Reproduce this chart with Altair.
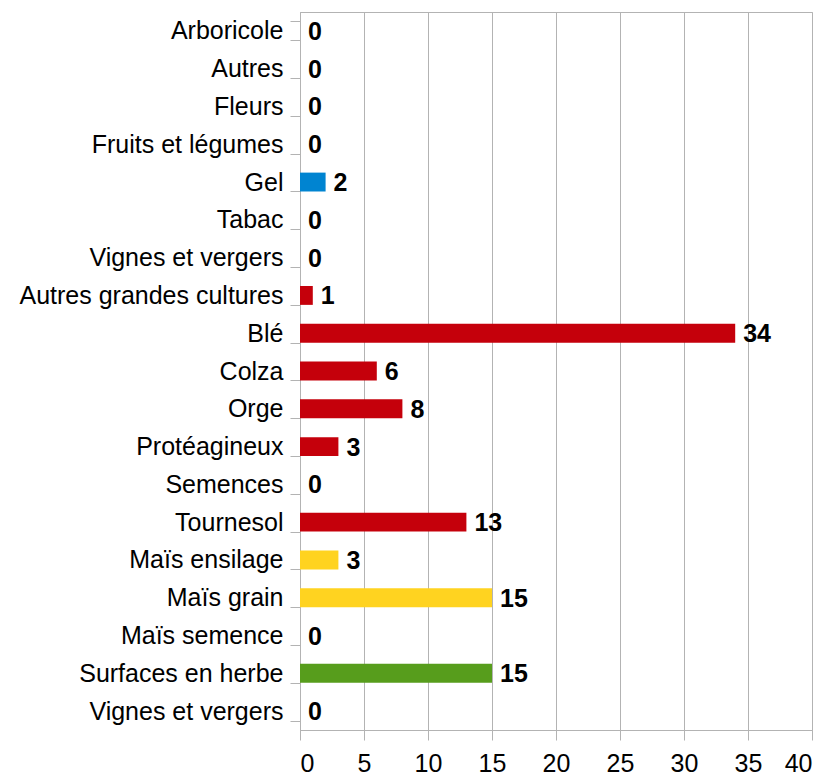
import json
import altair as alt
import pandas as pd

categories = [
    "Arboricole", "Autres", "Fleurs", "Fruits et légumes", "Gel", "Tabac",
    "Vignes et vergers", "Autres grandes cultures", "Blé", "Colza", "Orge",
    "Protéagineux", "Semences", "Tournesol", "Maïs ensilage", "Maïs grain",
    "Maïs semence", "Surfaces en herbe", "Vignes et vergers",
]
values = [0, 0, 0, 0, 2, 0, 0, 1, 34, 6, 8, 3, 0, 13, 3, 15, 0, 15, 0]
groups = ["blue"] * 7 + ["red"] * 7 + ["yellow"] * 3 + ["green"] * 2
group_colors = {"blue": "#0084d1", "red": "#c5000b", "yellow": "#ffd320", "green": "#579d1c"}
x_ticks = [0, 5, 10, 15, 20, 25, 30, 35, 40]

df = pd.DataFrame({
    "idx": list(range(len(categories))),
    "value": values,
    "group": groups,
})

label_expr = json.dumps(categories, ensure_ascii=False) + "[datum.value]"

y_enc = alt.Y(
    "idx:O",
    title=None,
    scale=alt.Scale(paddingInner=0.5, paddingOuter=0.25),
    axis=alt.Axis(
        labelExpr=label_expr,
        labelFont="Liberation Sans",
        labelFontSize=25,
        labelColor="#000000",
        labelPadding=7,
        labelLimit=0,
        tickSize=10,
        tickColor="#b3b3b3",
        tickBand="extent",
        domainColor="#b3b3b3",
        grid=False,
    ),
)
x_enc = alt.X(
    "value:Q",
    title=None,
    scale=alt.Scale(domain=[0, 40], nice=False),
    axis=alt.Axis(
        values=x_ticks,
        labelFont="Liberation Sans",
        labelFontSize=25,
        labelColor="#000000",
        labelPadding=11,
        tickSize=10,
        tickColor="#b3b3b3",
        domainColor="#b3b3b3",
        gridColor="#b3b3b3",
        grid=True,
    ),
)

bars = alt.Chart(df).mark_bar().encode(
    y=y_enc,
    x=x_enc,
    color=alt.Color(
        "group:N",
        scale=alt.Scale(domain=list(group_colors.keys()), range=list(group_colors.values())),
        legend=None,
    ),
)

texts = alt.Chart(df).mark_text(
    align="left", baseline="middle", dx=8, dy=1,
    font="Liberation Sans", fontSize=25, fontWeight="bold", color="#000000",
).encode(
    y=alt.Y("idx:O"),
    x=alt.X("value:Q"),
    text=alt.Text("value:Q"),
)

chart = (bars + texts).properties(
    width=512,
    height=718,
    autosize=alt.AutoSizeParams(type="none"),
    padding={"left": 292, "top": 4, "right": 10, "bottom": 50},
).configure_view(stroke="#b3b3b3")

chart.save("out.html", embed_options={"renderer": "svg", "actions": False})
